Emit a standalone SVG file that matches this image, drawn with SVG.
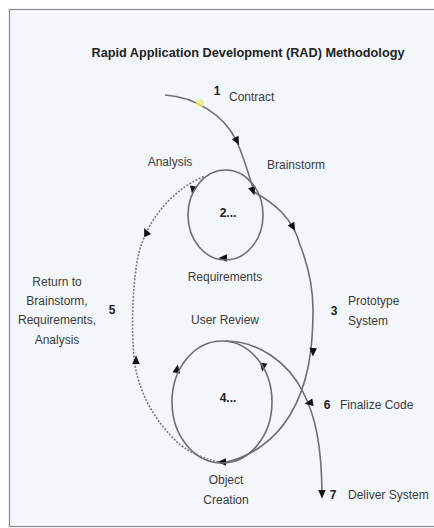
<svg xmlns="http://www.w3.org/2000/svg" xmlns:xlink="http://www.w3.org/1999/xlink" width="434" height="528" viewBox="0 0 434 528">
<style>
.lbl{font-family:"Liberation Sans",Arial,sans-serif;font-size:12px;fill:#3a3a3a}
.num{font-family:"Liberation Sans",Arial,sans-serif;font-size:12px;font-weight:bold;fill:#222}
.ln{fill:none;stroke:#6e6e6e;stroke-width:1.6}
.dot{fill:none;stroke:#7a7a7a;stroke-width:1.6;stroke-dasharray:2 1.5}
.ah{fill:#111}
</style>
<defs>
<path id="ah" d="M4.5,0 L-4,-3.8 L-4,3.8 Z"/>
</defs>
<rect x="0" y="0" width="434" height="528" fill="#ffffff"/>
<rect x="9.5" y="9.5" width="440" height="517" fill="#f4f7fa" stroke="#8a8a8a" stroke-width="1.2"/>
<text x="248" y="57" text-anchor="middle" textLength="313" lengthAdjust="spacingAndGlyphs" style="font-family:'Liberation Sans',Arial,sans-serif;font-size:12px;font-weight:bold;fill:#222">Rapid Application Development (RAD) Methodology</text>

<g id="connectors">
<path class="ln" d="M165,95 C195,97 224,115 236,140 C244,157 249,175 254,192"/>
<path class="ln" d="M254,192 C274,203 293,218 300,245 C308,265 313,285 313,310 C313,350 308,385 290,415 C275,440 250,458 222,463"/>
<path class="dot" d="M222,463 C200,458 185,450 175,440 C155,420 140,395 135,365 C131,335 132,295 137,262 C143,225 170,190 205,176"/>
<path class="ln" d="M225,341 C258,341 288,362 303,392 C315,415 322,445 322,497"/>
<circle cx="200" cy="103" r="4" fill="#eef07a" opacity="0.8"/>
<use xlink:href="#ah" class="ah" transform="translate(237,141) rotate(62)"/>
<use xlink:href="#ah" class="ah" transform="translate(253,191) rotate(72)"/>
<use xlink:href="#ah" class="ah" transform="translate(293,227) rotate(60)"/>
<use xlink:href="#ah" class="ah" transform="translate(313,352) rotate(92)"/>
<use xlink:href="#ah" class="ah" transform="translate(193,190) rotate(100)"/>
<use xlink:href="#ah" class="ah" transform="translate(223,258) rotate(180)"/>
<use xlink:href="#ah" class="ah" transform="translate(146,232) rotate(-115)"/>
<use xlink:href="#ah" class="ah" transform="translate(136,360) rotate(-90)"/>
<use xlink:href="#ah" class="ah" transform="translate(177,369) rotate(-80)"/>
<use xlink:href="#ah" class="ah" transform="translate(263,367) rotate(100)"/>
<use xlink:href="#ah" class="ah" transform="translate(222,462) rotate(180)"/>
<use xlink:href="#ah" class="ah" transform="translate(309,403) rotate(170)"/>
<use xlink:href="#ah" class="ah" transform="translate(322,494) rotate(90)"/>
</g>

<g id="contract">
<text class="num" x="217" y="95" text-anchor="middle">1</text>
<text class="lbl" x="229" y="101">Contract</text>
</g>
<g id="loop2">
<ellipse class="ln" cx="225.5" cy="215" rx="37.5" ry="45"/>
<text class="num" x="228" y="217" text-anchor="middle">2...</text>
</g>
<g id="analysis"><text class="lbl" x="170" y="166" text-anchor="middle">Analysis</text></g>
<g id="brainstorm"><text class="lbl" x="267" y="169">Brainstorm</text></g>
<g id="requirements"><text class="lbl" x="225" y="281" text-anchor="middle">Requirements</text></g>
<g id="return">
<text class="lbl" x="57" y="286" text-anchor="middle">Return to</text>
<text class="lbl" x="57" y="305" text-anchor="middle">Brainstorm,</text>
<text class="lbl" x="57" y="324" text-anchor="middle">Requirements,</text>
<text class="lbl" x="57" y="344" text-anchor="middle">Analysis</text>
<text class="num" x="112" y="314" text-anchor="middle">5</text>
</g>
<g id="prototype">
<text class="num" x="334" y="315" text-anchor="middle">3</text>
<text class="lbl" x="348" y="305">Prototype</text>
<text class="lbl" x="348" y="325">System</text>
</g>
<g id="userreview"><text class="lbl" x="225" y="324" text-anchor="middle">User Review</text></g>
<g id="loop4">
<ellipse class="ln" cx="222" cy="402" rx="50" ry="61"/>
<text class="num" x="228" y="402" text-anchor="middle">4...</text>
</g>
<g id="finalize">
<text class="num" x="327" y="409" text-anchor="middle">6</text>
<text class="lbl" x="340" y="409">Finalize Code</text>
</g>
<g id="object">
<text class="lbl" x="226" y="484" text-anchor="middle">Object</text>
<text class="lbl" x="226" y="504" text-anchor="middle">Creation</text>
</g>
<g id="deliver">
<text class="num" x="333" y="499" text-anchor="middle">7</text>
<text class="lbl" x="348" y="499">Deliver System</text>
</g>
</svg>
